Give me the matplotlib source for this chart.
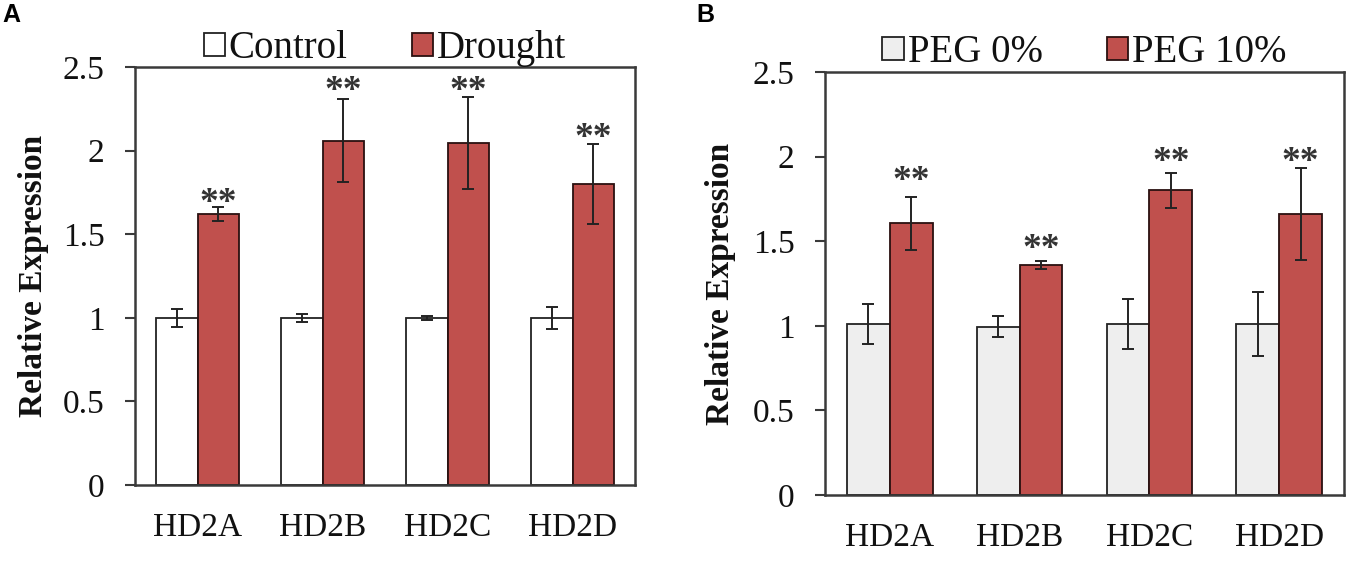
import matplotlib
matplotlib.use("Agg")
import matplotlib.pyplot as plt
import matplotlib.transforms as mtransforms
import numpy as np

# ---------------- data ----------------
genes = ["HD2A", "HD2B", "HD2C", "HD2D"]

# Panel A
a_labels = ["Control", "Drought"]
a_control = [1.00, 1.00, 1.00, 1.00]
a_control_err = [0.054, 0.025, 0.012, 0.067]
a_drought = [1.62, 2.06, 2.045, 1.80]
a_drought_err = [0.043, 0.25, 0.275, 0.24]
a_star_y = [1.73, 2.40, 2.40, 2.12]

# Panel B
b_labels = ["PEG 0%", "PEG 10%"]
b_peg0 = [1.01, 0.995, 1.01, 1.01]
b_peg0_err = [0.12, 0.06, 0.15, 0.19]
b_peg10 = [1.605, 1.36, 1.80, 1.66]
b_peg10_err = [0.155, 0.025, 0.105, 0.27]
b_star_y = [1.90, 1.50, 2.01, 2.01]

yticks = [0, 0.5, 1, 1.5, 2, 2.5]
ytick_labels = ["0", "0.5", "1", "1.5", "2", "2.5"]

RED = "#C0504D"
FRAME = "#3a3a3a"
SERIF = ["Liberation Serif", "DejaVu Serif"]

fig = plt.figure(figsize=(13.58, 5.66), dpi=100)
fig.patch.set_facecolor("white")

W, H = 1358.0, 566.0


def make_axes(l, r, t, b):
    return fig.add_axes([l / W, (H - b) / H, (r - l) / W, (b - t) / H])


def draw_panel(ax, ctrl, ctrl_err, trt, trt_err, star_y, labels, ctrl_color, letter, letter_x,
               ylab_x, leg_y):
    x = np.arange(len(genes))
    w = 0.33
    ax.bar(x - w / 2, ctrl, w, color=ctrl_color, edgecolor="#222222", linewidth=1.3,
           label=labels[0], zorder=2)
    ax.bar(x + w / 2, trt, w, color=RED, edgecolor="#2a1010", linewidth=1.3,
           label=labels[1], zorder=2)
    ax.errorbar(x - w / 2, ctrl, yerr=ctrl_err, fmt="none", ecolor="#222222",
                elinewidth=1.4, capsize=4.5, capthick=1.4, zorder=3)
    ax.errorbar(x + w / 2, trt, yerr=trt_err, fmt="none", ecolor="#222222",
                elinewidth=1.4, capsize=4.5, capthick=1.4, zorder=3)
    shift = mtransforms.ScaledTranslation(0, -8 / 100.0, fig.dpi_scale_trans)
    for xi, sy in zip(x, star_y):
        ax.text(xi + w / 2, sy, "**", ha="center", va="center", fontsize=27,
                fontweight="bold", family=SERIF, color="#333333", zorder=4,
                transform=ax.transData + shift)

    ax.set_xlim(-0.5, len(genes) - 0.5)
    ax.set_ylim(0, 2.5)
    ax.set_yticks(yticks)
    ax.set_yticklabels(ytick_labels, family=SERIF, fontsize=24, color="#111111")
    ax.set_xticks(x)
    ax.set_xticklabels(genes, family=SERIF, fontsize=24, color="#111111")
    ax.tick_params(axis="x", length=0, pad=20)
    ax.tick_params(axis="y", direction="out", length=7, width=1.5, color=FRAME, pad=15)
    for s in ax.spines.values():
        s.set_color(FRAME)
        s.set_linewidth(1.8)

    ax.set_ylabel("Relative Expression", family=SERIF, fontsize=24, fontweight="bold",
                  color="#111111")
    ax.yaxis.set_label_coords(ylab_x, 0.5)

    leg = ax.legend(loc="lower center", bbox_to_anchor=(0.5, leg_y), ncol=2, frameon=False,
                    prop={"family": SERIF, "size": 28}, handlelength=0.55, handleheight=0.55,
                    handletextpad=0.1, columnspacing=1.65, borderaxespad=0.0, borderpad=0.0)
    for t in leg.get_texts():
        t.set_color("#111111")

    fig.text(letter_x / W, 1 - 15 / H, letter, family=["Liberation Sans", "DejaVu Sans"],
             fontsize=18, fontweight="bold", ha="left", va="center")


axA = make_axes(135, 635, 67, 485)
draw_panel(axA, a_control, a_control_err, a_drought, a_drought_err, a_star_y,
           a_labels, "white", "A", 2, (49 - 135) / 500.0, 1.0)

axB = make_axes(825, 1344, 72, 495)
draw_panel(axB, b_peg0, b_peg0_err, b_peg10, b_peg10_err, b_star_y,
           b_labels, "#EEEEEE", "B", 696, (736 - 825) / 519.0, 1.002)

fig.savefig("out.png", dpi=100, facecolor="white")
